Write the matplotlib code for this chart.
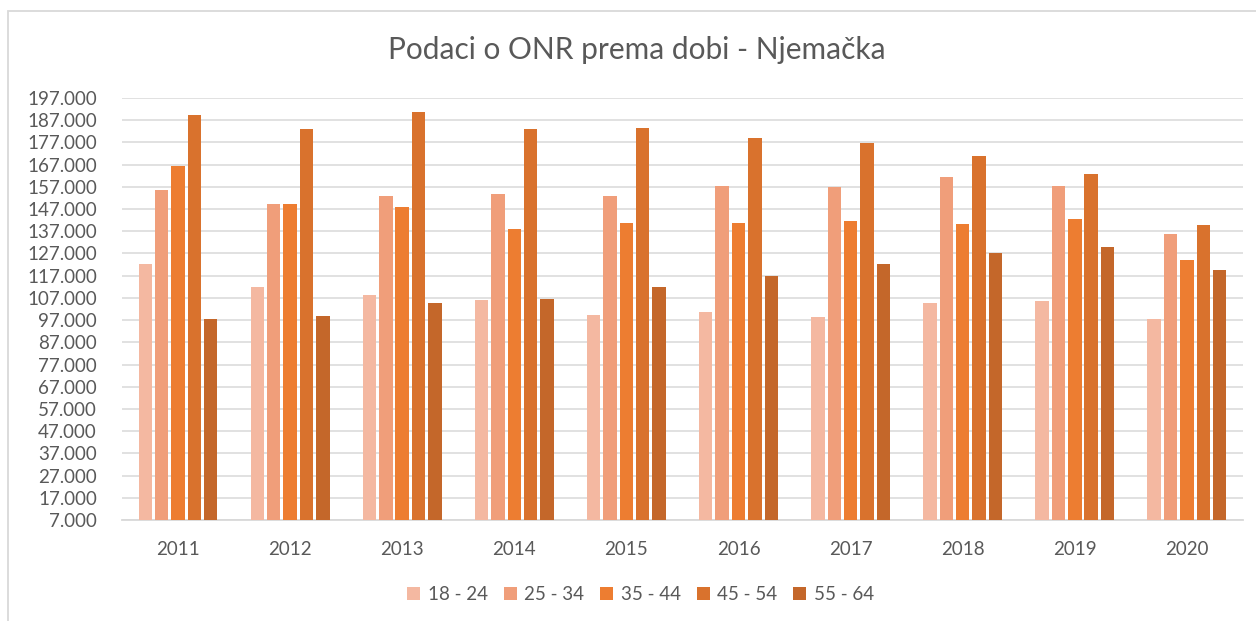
import numpy as np
import matplotlib.pyplot as plt
from matplotlib.patches import Rectangle
from matplotlib.ticker import FixedLocator, FuncFormatter

years = ['2011', '2012', '2013', '2014', '2015', '2016', '2017', '2018', '2019', '2020']
age_groups = ['18 - 24', '25 - 34', '35 - 44', '45 - 54', '55 - 64']

# values
age_18_24 = [122400, 112100, 108100, 106000, 99400, 100500, 98500, 104600, 105700, 97400]
age_25_34 = [155500, 149300, 152900, 154000, 152900, 157400, 157000, 161500, 157400, 135600]
age_35_44 = [166600, 149300, 147800, 138200, 140700, 140700, 141600, 140100, 142700, 123900]
age_45_54 = [189400, 182900, 190500, 182900, 183300, 179200, 176700, 171100, 163000, 139700]
age_55_64 = [97400, 98900, 104600, 106600, 111700, 116800, 122400, 127000, 130100, 119400]

colors = ['#F4B8A1', '#F09E7A', '#ED7D31', '#D9722D', '#C4672A']
series = [age_18_24, age_25_34, age_35_44, age_45_54, age_55_64]

plt.rcParams['font.family'] = ['Lato', 'DejaVu Sans']
text_col = '#595959'
grid_col = '#D9D9D9'

fig = plt.figure(figsize=(12.56, 6.21), dpi=100)
ax = fig.add_axes([0.0971, 0.1626, 0.8925, 0.6796])

x = np.arange(len(years))
slot = 0.146
for i, (vals, c) in enumerate(zip(series, colors)):
    ax.bar(x + (i - 2) * slot, vals, width=slot * 0.82, color=c,
           label=age_groups[i], zorder=3)

ax.set_xlim(-0.5, len(years) - 0.5)
ax.set_ylim(7000, 197000)
ax.yaxis.set_major_locator(FixedLocator(list(range(7000, 197001, 10000))))
ax.yaxis.set_major_formatter(FuncFormatter(lambda v, p: f'{int(v):,}'.replace(',', '.')))
ax.set_xticks(x)
ax.set_xticklabels(years)

ax.grid(axis='y', color=grid_col, linewidth=1.1, zorder=0)
for s in ['top', 'right', 'left']:
    ax.spines[s].set_visible(False)
ax.spines['bottom'].set_color(grid_col)
ax.spines['bottom'].set_linewidth(1.3)
ax.tick_params(axis='y', length=0, pad=18, labelsize=13.5, labelcolor=text_col)
ax.tick_params(axis='x', length=0, pad=15, labelsize=13.5, labelcolor=text_col)

fig.text(0.507, 0.919, 'Podaci o ONR prema dobi - Njemačka', ha='center', va='center',
         fontsize=21.5, color=text_col)

fig.legend(loc='center', bbox_to_anchor=(0.51, 0.042), ncol=5, frameon=False,
           fontsize=13.5, labelcolor=text_col, handlelength=0.7, handleheight=0.7,
           handletextpad=0.4, columnspacing=0.85)

fig.patches.append(Rectangle((0.0064, -0.05), 1.1, 0.9823 + 0.05, transform=fig.transFigure,
                             fill=False, edgecolor=grid_col, linewidth=1.3))

fig.savefig('out.png', dpi=100)
